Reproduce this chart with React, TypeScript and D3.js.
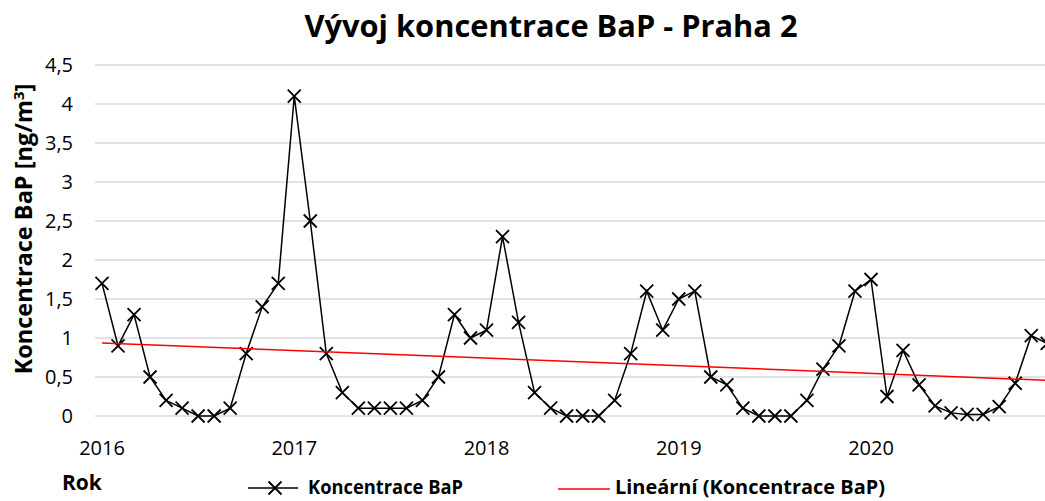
import React from 'react'
import * as d3 from 'd3'

// monthly BaP concentrations (ng/m3), Jan..Dec
const values2016 = [1.7, 0.9, 1.3, 0.5, 0.2, 0.1, 0.0, 0.0, 0.1, 0.8, 1.4, 1.7]
const values2017 = [4.1, 2.5, 0.8, 0.3, 0.1, 0.1, 0.1, 0.1, 0.2, 0.5, 1.3, 1.0]
const values2018 = [1.1, 2.3, 1.2, 0.3, 0.1, 0.0, 0.0, 0.0, 0.2, 0.8, 1.6, 1.1]
const values2019 = [1.5, 1.6, 0.5, 0.4, 0.1, 0.0, 0.0, 0.0, 0.2, 0.6, 0.9, 1.6]
const values2020 = [1.75, 0.25, 0.84, 0.4, 0.13, 0.04, 0.02, 0.02, 0.12, 0.42, 1.03, 0.93]

const yearLabels = ['2016', '2017', '2018', '2019', '2020']
const yTicks = [0, 0.5, 1, 1.5, 2, 2.5, 3, 3.5, 4, 4.5]

const series = [...values2016, ...values2017, ...values2018, ...values2019, ...values2020]

const W = 1045
const H = 501
const boldFont = "'Open Sans', 'Liberation Sans', sans-serif"
const tickFont = "'Open Sans', 'Liberation Sans', sans-serif"

// least squares trend on month index
const linearFit = (ys: number[]) => {
  const xs = ys.map((_, i) => i)
  const mx = d3.mean(xs) as number
  const my = d3.mean(ys) as number
  let num = 0
  let den = 0
  xs.forEach((x, i) => {
    num += (x - mx) * (ys[i] - my)
    den += (x - mx) * (x - mx)
  })
  const slope = num / den
  return { slope, intercept: my - slope * mx }
}

export default function App() {
  const x = d3.scaleLinear().domain([0, 48]).range([102, 871])
  const y = d3.scaleLinear().domain([0, 4.5]).range([416, 65])

  const line = d3
    .line<number>()
    .x((_, i) => x(i))
    .y((d) => y(d))

  const fit = linearFit(series)
  const last = series.length - 1
  const fmt = (v: number) => String(v).replace('.', ',')
  const marker = 'M-6.5,-6.5L6.5,6.5M-6.5,6.5L6.5,-6.5'

  return (
    <svg
      width={W}
      height={H}
      style={{ position: 'absolute', left: 0, top: 0, background: '#fff' }}
    >
      <rect width={W} height={H} fill="#fff" />
      <text
        x={551}
        y={37}
        textAnchor="middle"
        fontFamily={boldFont}
        fontWeight="bold"
        fontSize={30}
        textLength={493}
        lengthAdjust="spacingAndGlyphs"
        fill="#000"
      >
        Vývoj koncentrace BaP - Praha 2
      </text>

      {/* grid + y ticks */}
      {yTicks.map((t) => (
        <g key={t}>
          <line x1={95} x2={W} y1={y(t)} y2={y(t)} stroke="#d9d9d9" strokeWidth={1.5} />
          <text
            x={73}
            y={y(t)}
            dy="0.35em"
            textAnchor="end"
            fontFamily={tickFont}
            fontSize={20}
            fill="#000"
          >
            {fmt(t)}
          </text>
        </g>
      ))}

      {/* x tick labels, one per year */}
      {yearLabels.map((yr, i) => (
        <text
          key={yr}
          x={x(i * 12)}
          y={455}
          textAnchor="middle"
          fontFamily={tickFont}
          fontSize={20}
          fill="#000"
        >
          {yr}
        </text>
      ))}

      <text
        transform="translate(32,229) rotate(-90)"
        textAnchor="middle"
        fontFamily={boldFont}
        fontWeight="bold"
        fontSize={23.5}
        fill="#000"
      >
        Koncentrace BaP [ng/m<tspan dy={-8} fontSize={15}>3</tspan>
        <tspan dy={8}>]</tspan>
      </text>

      <text x={62} y={490} fontFamily={boldFont} fontWeight="bold" fontSize={21} fill="#000">
        Rok
      </text>

      <path d={line(series) || ''} fill="none" stroke="#000" strokeWidth={1.5} />
      {series.map((v, i) => (
        <path
          key={i}
          d={marker}
          transform={`translate(${x(i)},${y(v)})`}
          fill="none"
          stroke="#000"
          strokeWidth={1.8}
        />
      ))}

      <line
        x1={x(0)}
        x2={x(last)}
        y1={y(fit.intercept)}
        y2={y(fit.intercept + fit.slope * last)}
        stroke="#ff0000"
        strokeWidth={1.5}
      />

      {/* legend */}
      <line x1={248} x2={298} y1={488} y2={488} stroke="#000" strokeWidth={1.5} />
      <path d={marker} transform="translate(275,488)" fill="none" stroke="#000" strokeWidth={1.8} />
      <text
        x={308}
        y={494}
        fontFamily={boldFont}
        fontWeight="bold"
        fontSize={19}
        textLength={155}
        lengthAdjust="spacingAndGlyphs"
        fill="#000"
      >
        Koncentrace BaP
      </text>
      <line x1={558} x2={610} y1={489} y2={489} stroke="#ff0000" strokeWidth={1.5} />
      <text
        x={615}
        y={494}
        fontFamily={boldFont}
        fontWeight="bold"
        fontSize={19}
        textLength={270}
        lengthAdjust="spacingAndGlyphs"
        fill="#000"
      >
        Lineární (Koncentrace BaP)
      </text>
    </svg>
  )
}
